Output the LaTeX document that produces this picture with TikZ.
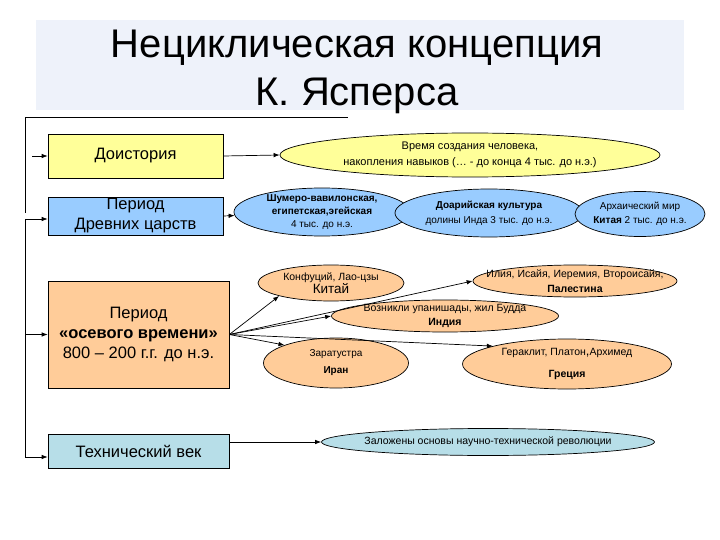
\documentclass[tikz,border=0pt]{standalone}
\usepackage{fontspec}
\setmainfont{Liberation Sans}
\usetikzlibrary{shapes.geometric,arrows.meta}

\definecolor{titlebg}{HTML}{EEF2FA}
\definecolor{palY}{HTML}{FFFF99}
\definecolor{palBl}{HTML}{99CCFF}
\definecolor{palO}{HTML}{FFCC99}
\definecolor{palT}{HTML}{B7DEE8}

\begin{document}
\begin{tikzpicture}[x=1pt, y=-1pt,
    >={Latex[length=6pt,width=4.5pt]},
    every path/.style={line width=0.7pt},
    box/.style={rectangle, draw, inner sep=0pt, align=center,
        font=\fontsize{16.5}{20}\selectfont},
    oval/.style={ellipse, draw, inner xsep=-30pt, inner ysep=-8pt,
        align=center, font=\fontsize{10.5}{13}\selectfont},
]
\useasboundingbox (0,0) rectangle (720,540);

% Title
\fill[titlebg] (36,20) rectangle (684,110);
\node[align=center, font=\fontsize{40}{48}\selectfont] (title) at (357,72)
    {Нециклическая концепция\\К. Ясперса};

% Periods
\node[box, fill=palY, minimum width=175, minimum height=44] (dois) at (135.5,156) {Доистория};
\node[box, fill=palBl, minimum width=175, minimum height=38] (anc) at (135.5,216) {Период\\Древних царств};
\node[box, fill=palO, minimum width=181, minimum height=107] (axial) at (138.5,334.5)
    {Период\\\textbf{«осевого времени»}\\800 – 200 г.г. до н.э.};
\node[box, fill=palT, minimum width=181, minimum height=34] (tech) at (138.5,451) {Технический век};

% Ovals
\node[oval, fill=palY, minimum width=380, minimum height=44, font=\fontsize{11}{16}\selectfont] (vrem) at (470,155)
    {Время создания человека,\\накопления навыков (… - до конца 4 тыс. до н.э.)};
\node[oval, fill=palBl, minimum width=176, minimum height=48, font=\fontsize{10}{13}\selectfont] (shum) at (322,212)
    {\textbf{Шумеро-вавилонская,}\\\textbf{египетская,эгейская}\\4 тыс. до н.э.};
\node[oval, fill=palBl, minimum width=188, minimum height=48, font=\fontsize{10}{15}\selectfont] (doar) at (489,213)
    {\textbf{Доарийская культура}\\долины Инда 3 тыс. до н.э.};
\node[oval, fill=palBl, minimum width=130, minimum height=45, font=\fontsize{10}{14}\selectfont] (arch) at (640,214)
    {Архаический мир\\\textbf{Китая} 2 тыс. до н.э.};
\node[oval, fill=palO, minimum width=146, minimum height=36] (konf) at (331,283)
    {Конфуций, Лао-цзы\\{\fontsize{13.5}{16}\selectfont Китай}};
\node[oval, fill=palO, minimum width=204, minimum height=32, font=\fontsize{10.5}{15}\selectfont] (pal) at (575,281)
    {Илия, Исайя, Иеремия, Второисайя,\\\textbf{Палестина}};
\node[oval, fill=palO, minimum width=227, minimum height=32, font=\fontsize{10.5}{14}\selectfont] (indi) at (445,316)
    {Возникли упанишады, жил Будда\\\textbf{Индия}};
\node[oval, fill=palO, minimum width=145, minimum height=50, font=\fontsize{10}{17}\selectfont] (iran) at (336,363)
    {Заратустра\\\textbf{Иран}};
\node[oval, fill=palO, minimum width=209, minimum height=50, font=\fontsize{10.5}{22}\selectfont] (grec) at (567,364)
    {Гераклит, Платон{\fontsize{13}{13}\selectfont,}Архимед\\\textbf{Греция}};
\node[oval, fill=palT, minimum width=333, minimum height=27] (nauk) at (488,442)
    {Заложены основы научно-технической революции};

% Left frame
\coordinate (topR) at (348,117);
\coordinate (topL) at (25,117);
\coordinate (topB) at (25,213);
\coordinate (s0) at (32,156);
\coordinate (spT) at (25,219);
\coordinate (spB) at (25,457);
\draw (topB) -- (topL) -- (topR);
\draw[->] (s0) -- (dois.west);
\draw (spT) -- (spB);
\draw[->] (spT) -- (spT -| anc.west);
\draw[->] (spT |- axial.west) -- (axial.west);
\draw[->] (spB) -- (spB -| tech.west);

% Links
\draw[->] (dois.east) -- (vrem.west);
\draw[->] (anc.east) -- (shum);
\draw[->] (nauk.west -| tech.east) -- (nauk.west);
\foreach \t in {konf.south west, indi.west, pal.west, grec.north west, iran.north west} {
    \draw[->] (axial.east) -- (\t);
}

\end{tikzpicture}
\end{document}
